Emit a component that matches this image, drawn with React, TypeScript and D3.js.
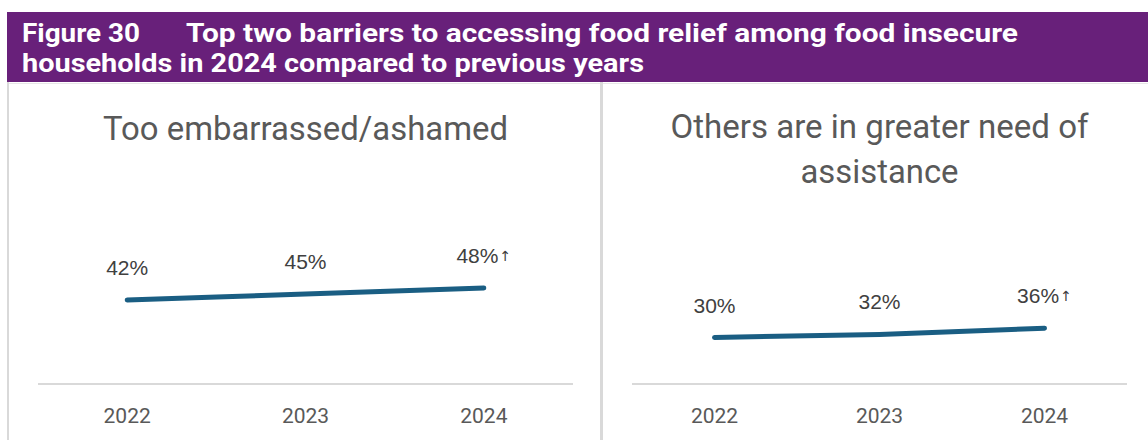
import React from 'react';
import * as d3 from 'd3';

const years = ['2022', '2023', '2024'];
const embarrassedValues = [42, 45, 48];
const greaterNeedValues = [30, 32, 36];
const significantUp = [false, false, true];
const headerLine1a = 'Figure 30';
const headerLine1b = 'Top two barriers to accessing food relief among food insecure';
const headerLine2 = 'households in 2024 compared to previous years';
const leftTitle = ['Too embarrassed/ashamed'];
const rightTitle = ['Others are in greater need of', 'assistance'];

const W = 1148;
const H = 440;
const PURPLE = '#68207A';
const LINE = '#1A5E83';

type PanelProps = {
  x0: number; x1: number; yTop: number; values: number[]; title: string[]; titleY: number; titleWidths: number[];
};

function Panel({ x0, x1, yTop, values, title, titleY, titleWidths }: PanelProps) {
  const axisY = 384;
  const x = d3.scaleBand<string>().domain(years).range([x0, x1]).padding(0);
  const y = d3.scaleLinear().domain([0, 100]).range([axisY, yTop]);
  const cx = (d: string) => (x(d) as number) + x.bandwidth() / 2;
  const line = d3.line<number>()
    .x((_, i) => cx(years[i]))
    .y((v) => y(v))
    .curve(d3.curveMonotoneX);
  const mid = (x0 + x1) / 2;
  return (
    <g>
      {title.map((t, i) => (
        <text key={i} x={mid} y={titleY + i * 45} textAnchor="middle" fontFamily="Roboto" fontSize={34} fill="#595959"
          textLength={titleWidths[i]} lengthAdjust="spacingAndGlyphs">{t}</text>
      ))}
      <line x1={x0} x2={x1} y1={axisY} y2={axisY} stroke="#D9D9D9" strokeWidth={2} />
      <path d={line(values) || ''} fill="none" stroke={LINE} strokeWidth={5} strokeLinecap="round" strokeLinejoin="round" />
      {values.map((v, i) => (
        <text key={i} x={cx(years[i])} y={y(v) - 25} textAnchor="middle" fontFamily="Liberation Sans, Arial" fontSize={21} fill="#404040">
          {v + '%'}{significantUp[i] ? <tspan fontFamily="DejaVu Sans" fontSize={14} dx={1} dy={-2}>↑</tspan> : null}
        </text>
      ))}
      {years.map((yr) => (
        <text key={yr} x={cx(yr)} y={423} textAnchor="middle" fontFamily="Roboto" fontSize={21} fill="#595959">{yr}</text>
      ))}
    </g>
  );
}

export default function App() {
  return (
    <svg width={W} height={H} style={{ position: 'absolute', left: 0, top: 0, background: '#fff' }}>
      <rect x={0} y={0} width={W} height={H} fill="#fff" />
      <rect x={7} y={12} width={W - 7} height={70} fill={PURPLE} />
      <g fontFamily="Roboto" fontWeight={700} fontSize={26} fill="#fff">
        <text x={22} y={42} textLength={118} lengthAdjust="spacingAndGlyphs">{headerLine1a}</text>
        <text x={186} y={42} textLength={832} lengthAdjust="spacingAndGlyphs">{headerLine1b}</text>
        <text x={22} y={72} textLength={622} lengthAdjust="spacingAndGlyphs">{headerLine2}</text>
      </g>
      <line x1={8} x2={W} y1={83.5} y2={83.5} stroke="#E6E6E6" strokeWidth={1} />
      <line x1={8} x2={8} y1={82} y2={H} stroke="#D9D9D9" strokeWidth={2} />
      <line x1={601.5} x2={601.5} y1={82} y2={H} stroke="#D9D9D9" strokeWidth={3} />
      <Panel x0={38} x1={573} yTop={184} values={embarrassedValues} title={leftTitle} titleY={140} titleWidths={[405]} />
      <Panel x0={632} x1={1127} yTop={229} values={greaterNeedValues} title={rightTitle} titleY={138} titleWidths={[418, 158]} />
    </svg>
  );
}
